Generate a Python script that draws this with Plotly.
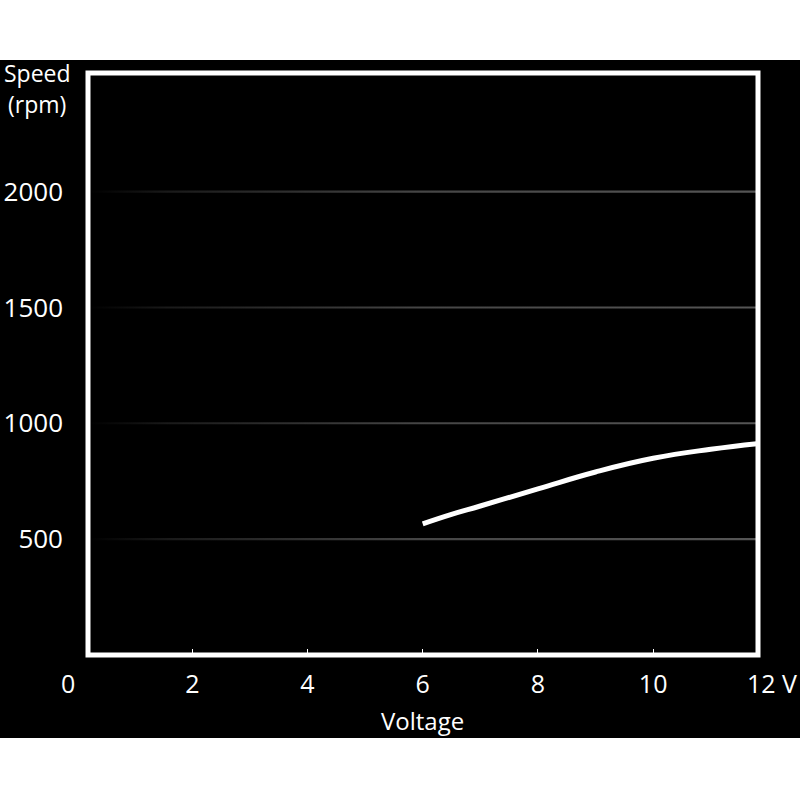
import plotly.graph_objects as go

# Data
voltage = [6.0, 6.5, 7.0, 8.0, 9.0, 10.0, 11.0, 11.8]
speed = [566, 607, 643, 717, 790, 849, 888, 912]

x_tick_vals = [2, 4, 6, 8, 10]
x_tick_text = ["2", "4", "6", "8", "10"]
y_tick_vals = [500, 1000, 1500, 2000]
y_tick_text = ["500", "1000", "1500", "2000"]

FONT = "Open Sans"
X_RANGE = [0.19, 11.82]
Y_RANGE = [0, 2512]

fig = go.Figure()

# faded horizontal gridlines (brighter towards the right)
half = 4.5
for yv in y_tick_vals:
    fig.add_trace(go.Scatter(
        x=[X_RANGE[0], X_RANGE[1], X_RANGE[1], X_RANGE[0], X_RANGE[0]],
        y=[yv - half, yv - half, yv + half, yv + half, yv - half],
        mode="lines", line=dict(width=0), fill="toself",
        fillgradient=dict(type="horizontal",
                          colorscale=[[0, "#000000"], [0.12, "#1a1a1a"],
                                      [0.5, "#464646"], [1, "#555555"]]),
        showlegend=False, hoverinfo="skip",
    ))

fig.add_trace(go.Scatter(
    x=voltage, y=speed, mode="lines",
    line=dict(color="white", width=5, shape="spline", smoothing=1.3),
    showlegend=False, hoverinfo="skip",
))

L, R, T, B = 88, 42, 73, 145
W, H = 800, 800
pw, ph = W - L - R, H - T - B

def px_to_paper_x(px):
    return (px - L) / pw

def px_to_paper_y(py):
    return (H - B - py) / ph

# black background band
fig.add_shape(type="rect", xref="paper", yref="paper",
              x0=px_to_paper_x(-30), x1=px_to_paper_x(830),
              y0=px_to_paper_y(738), y1=px_to_paper_y(60),
              fillcolor="black", line=dict(width=0), layer="below")

# white frame
fig.add_shape(type="rect", xref="paper", yref="paper",
              x0=0, x1=1, y0=0, y1=1,
              line=dict(color="white", width=5), layer="above")

def ann(text, x, y, size):
    return dict(text=text, xref="paper", yref="paper",
                x=px_to_paper_x(x), y=px_to_paper_y(y),
                xanchor="center", yanchor="middle", showarrow=False,
                font=dict(family=FONT, size=size, color="white"))

fig.update_layout(
    width=W, height=H,
    margin=dict(l=L, r=R, t=T, b=B, autoexpand=False),
    paper_bgcolor="white",
    plot_bgcolor="black",
    font=dict(family=FONT, color="white", size=26),
    xaxis=dict(
        range=X_RANGE, automargin=False,
        tickvals=x_tick_vals, ticktext=x_tick_text,
        ticks="inside", ticklen=6, tickcolor="white", tickwidth=1,
        showgrid=False, zeroline=False, showline=False,
        tickfont=dict(family=FONT, size=25, color="white"),
        ticklabelstandoff=12,
    ),
    yaxis=dict(
        range=Y_RANGE, automargin=False,
        tickvals=y_tick_vals, ticktext=y_tick_text,
        ticks="", showgrid=False,
        zeroline=False, showline=False,
        tickfont=dict(family=FONT, size=26, color="white"),
        ticklabelstandoff=24,
    ),
    annotations=[
        ann("Speed", 37, 73, 23),
        ann("(rpm)", 37, 104, 23),
        ann("0", 68, 683, 25),
        ann("12 V", 772, 683, 25),
        ann("Voltage", 422, 720, 24),
    ],
)

fig.write_html(
    "out.html",
    config={"displayModeBar": False},
    post_script="document.body.style.margin='0';document.body.style.overflow='hidden';",
)
